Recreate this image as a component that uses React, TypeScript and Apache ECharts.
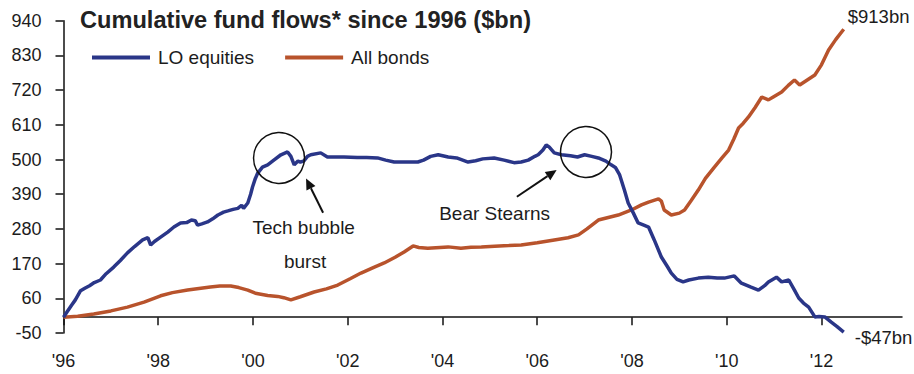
import React, { useEffect, useRef } from "react";
import * as echarts from "echarts";

// Tick labels / categories
const yearTicks: number[] = [1996, 1998, 2000, 2002, 2004, 2006, 2008, 2010, 2012];
const seriesNames: string[] = ["LO equities", "All bonds"];
const chartTitle = "Cumulative fund flows* since 1996 ($bn)";

// Cumulative flows, $bn, [decimal year, value]
const loEquities: [number, number][] = [
  [1996.0, 0], [1996.08, 18], [1996.17, 38], [1996.25, 55], [1996.36, 84], [1996.45, 92],
  [1996.55, 100], [1996.65, 110], [1996.78, 118], [1996.9, 138], [1997.06, 159], [1997.2, 180],
  [1997.35, 204], [1997.5, 224], [1997.67, 245], [1997.78, 252], [1997.84, 229], [1997.92, 240],
  [1998.05, 254], [1998.2, 270], [1998.33, 286], [1998.47, 299], [1998.6, 300], [1998.7, 308],
  [1998.78, 306], [1998.83, 292], [1998.92, 296], [1999.04, 302], [1999.15, 312], [1999.26, 324],
  [1999.38, 333], [1999.47, 337], [1999.58, 342], [1999.68, 345], [1999.76, 355], [1999.8, 345],
  [1999.89, 362], [1999.95, 390], [1999.99, 413], [2000.05, 440], [2000.1, 457], [2000.2, 476],
  [2000.31, 483], [2000.44, 498], [2000.59, 515], [2000.73, 524], [2000.8, 510], [2000.87, 483],
  [2000.95, 495], [2001.0, 492], [2001.07, 495], [2001.15, 510], [2001.22, 515], [2001.43, 521],
  [2001.57, 508], [2001.75, 508], [2001.92, 508], [2002.2, 506], [2002.4, 506], [2002.63, 505],
  [2002.8, 498], [2002.98, 492], [2003.2, 492], [2003.48, 492], [2003.6, 498], [2003.75, 510],
  [2003.91, 515], [2004.12, 508], [2004.3, 505], [2004.54, 492], [2004.7, 496], [2004.85, 502],
  [2005.09, 505], [2005.3, 498], [2005.51, 490], [2005.66, 492], [2005.81, 498], [2005.95, 510],
  [2006.02, 515], [2006.12, 530], [2006.19, 546], [2006.25, 540], [2006.36, 521], [2006.51, 515],
  [2006.7, 512], [2006.85, 508], [2007.0, 515], [2007.15, 510], [2007.29, 505], [2007.45, 495],
  [2007.56, 483], [2007.65, 475], [2007.74, 451], [2007.84, 403], [2007.92, 362], [2008.03, 330],
  [2008.13, 299], [2008.25, 292], [2008.35, 286], [2008.47, 245], [2008.62, 191], [2008.75, 160],
  [2008.83, 140], [2008.95, 120], [2009.08, 112], [2009.2, 118], [2009.4, 124], [2009.61, 127],
  [2009.8, 124], [2009.95, 124], [2010.16, 131], [2010.31, 108], [2010.5, 96], [2010.67, 86],
  [2010.8, 100], [2010.88, 112], [2011.05, 127], [2011.16, 112], [2011.31, 118], [2011.43, 86],
  [2011.52, 61], [2011.62, 45], [2011.73, 32], [2011.86, 1], [2011.95, 2], [2012.07, 1],
  [2012.2, -15], [2012.33, -30], [2012.47, -47],
];

const allBonds: [number, number][] = [
  [1996.0, 0], [1996.3, 3], [1996.64, 10], [1997.0, 20], [1997.35, 32], [1997.7, 48],
  [1998.05, 68], [1998.3, 78], [1998.62, 86], [1998.9, 92], [1999.1, 96], [1999.3, 99],
  [1999.53, 99], [1999.7, 94], [1999.89, 86], [2000.05, 76], [2000.31, 69], [2000.52, 66],
  [2000.65, 62], [2000.8, 55], [2001.0, 65], [2001.29, 80], [2001.55, 90], [2001.79, 102],
  [2002.05, 122], [2002.28, 140], [2002.55, 158], [2002.77, 172], [2003.0, 190], [2003.19, 207],
  [2003.38, 226], [2003.5, 221], [2003.69, 219], [2004.12, 223], [2004.39, 219], [2004.6, 222],
  [2004.82, 223], [2005.1, 225], [2005.4, 227], [2005.66, 229], [2006.0, 236], [2006.36, 245],
  [2006.65, 252], [2006.87, 261], [2007.05, 280], [2007.29, 308], [2007.5, 316], [2007.71, 324],
  [2007.99, 340], [2008.2, 356], [2008.35, 365], [2008.56, 375], [2008.62, 368], [2008.68, 340],
  [2008.83, 324], [2009.0, 330], [2009.11, 340], [2009.25, 370], [2009.4, 403], [2009.55, 440],
  [2009.74, 476], [2009.9, 505], [2010.04, 530], [2010.15, 565], [2010.25, 600], [2010.35, 615],
  [2010.46, 635], [2010.6, 665], [2010.74, 698], [2010.88, 689], [2011.0, 700], [2011.16, 714],
  [2011.3, 735], [2011.43, 752], [2011.54, 736], [2011.7, 752], [2011.86, 768], [2012.0, 800],
  [2012.15, 847], [2012.3, 880], [2012.47, 913],
];

// Annotations anchored in data coordinates
const circleNotes: [number, number][] = [[2000.55, 505], [2007.03, 524]];
const arrowNotes: { from: [number, number]; to: [number, number] }[] = [
  { from: [2001.48, 331], to: [2001.12, 440] },
  { from: [2005.57, 382], to: [2006.41, 467] },
];
const textNotes: { text: string; at: [number, number] }[] = [
  { text: "Tech bubble", at: [2001.07, 286] },
  { text: "burst", at: [2001.1, 178] },
  { text: "Bear Stearns", at: [2005.1, 328] },
];

const FONT = "'Liberation Sans', Arial, Helvetica, sans-serif";
const BLUE = "#2A3688";
const ORANGE = "#B8532C";
const INK = "#1c1c1c";

const endFmt = (p: any) => {
  const v = p.value[1] as number;
  return v < 0 ? `-$${Math.abs(v)}bn` : `$${v}bn`;
};

export default function App() {
  const ref = useRef<HTMLDivElement>(null);
  useEffect(() => {
    const chart = echarts.init(ref.current!, null, { renderer: "svg" });
    chart.setOption({
      animation: false,
      backgroundColor: "#ffffff",
      textStyle: { fontFamily: FONT },
      title: {
        text: chartTitle,
        left: 80,
        top: 8,
        padding: 0,
        textStyle: { fontFamily: FONT, fontSize: 23.6, fontWeight: "bold", color: "#222" },
      },
      legend: {
        left: 92,
        top: 48,
        padding: 0,
        icon: "rect",
        itemWidth: 58,
        itemHeight: 4,
        itemGap: 31,
        data: seriesNames,
        textStyle: { fontFamily: FONT, fontSize: 19, color: INK, padding: [0, 0, 0, 3] },
      },
      grid: { left: 63.5, right: 12, top: 20.7, bottom: 41, containLabel: false, outerBoundsMode: "none" },
      xAxis: {
        type: "value",
        min: 1996,
        max: 2013.7,
        interval: 2,
        splitLine: { show: false },
        axisLine: { onZero: true, lineStyle: { color: "#111", width: 1.5 } },
        axisTick: { show: true, length: 8, customValues: yearTicks, lineStyle: { color: "#111", width: 1.5 } },
        axisLabel: {
          customValues: yearTicks,
          formatter: (v: number) => "'" + String(v).slice(2),
          fontFamily: FONT,
          fontSize: 18,
          color: INK,
          margin: 19,
        },
      },
      yAxis: {
        type: "value",
        min: -50,
        max: 940,
        interval: 110,
        splitLine: { show: false },
        axisLine: { show: true, lineStyle: { color: "#111", width: 1.5 } },
        axisTick: { show: true, length: 8, lineStyle: { color: "#111", width: 1.5 } },
        axisLabel: { fontFamily: FONT, fontSize: 18, color: INK, margin: 22 },
      },
      series: [
        {
          name: seriesNames[0],
          type: "line",
          data: loEquities,
          symbol: "none",
          lineStyle: { color: BLUE, width: 3.5 },
          itemStyle: { color: BLUE },
          endLabel: { show: true, formatter: endFmt, fontFamily: FONT, fontSize: 18.5, color: INK, offset: [3, 5] },
          z: 3,
        },
        {
          name: seriesNames[1],
          type: "line",
          data: allBonds,
          symbol: "none",
          lineStyle: { color: ORANGE, width: 3.5 },
          itemStyle: { color: ORANGE },
          endLabel: { show: true, formatter: endFmt, fontFamily: FONT, fontSize: 18.5, color: INK, offset: [-4, -13] },
          z: 2,
        },
      ],
    });

    const px = (c: [number, number]) => chart.convertToPixel({ gridIndex: 0 }, c) as number[];
    const graphics: any[] = [];
    circleNotes.forEach((c) => {
      const [cx, cy] = px(c);
      graphics.push({
        type: "circle",
        shape: { cx, cy, r: 25.5 },
        style: { fill: "none", stroke: "#111", lineWidth: 1.5 },
        z: 10,
      });
    });
    arrowNotes.forEach((a) => {
      const [sx, sy] = px(a.from);
      const [tx, ty] = px(a.to);
      const len = Math.hypot(tx - sx, ty - sy);
      const dx = (tx - sx) / len;
      const dy = (ty - sy) / len;
      const hl = 11;
      const hw = 5;
      const bx = tx - dx * hl;
      const by = ty - dy * hl;
      const nx = -dy;
      const ny = dx;
      graphics.push({
        type: "line",
        shape: { x1: sx, y1: sy, x2: bx, y2: by },
        style: { stroke: "#111", lineWidth: 2 },
        z: 10,
      });
      graphics.push({
        type: "polygon",
        shape: { points: [[tx, ty], [bx + nx * hw, by + ny * hw], [bx - nx * hw, by - ny * hw]] },
        style: { fill: "#111" },
        z: 10,
      });
    });
    textNotes.forEach((t) => {
      const [x, y] = px(t.at);
      graphics.push({
        type: "text",
        x,
        y,
        style: {
          text: t.text,
          fill: INK,
          font: `19px ${FONT}`,
          align: "center",
          verticalAlign: "middle",
          textAlign: "center",
          textVerticalAlign: "middle",
        },
        z: 10,
      });
    });
    chart.setOption({ graphic: graphics });

    return () => chart.dispose();
  }, []);
  return (
    <div
      ref={ref}
      style={{ position: "fixed", left: 0, top: 0, width: 914, height: 374, background: "#fff" }}
    />
  );
}
